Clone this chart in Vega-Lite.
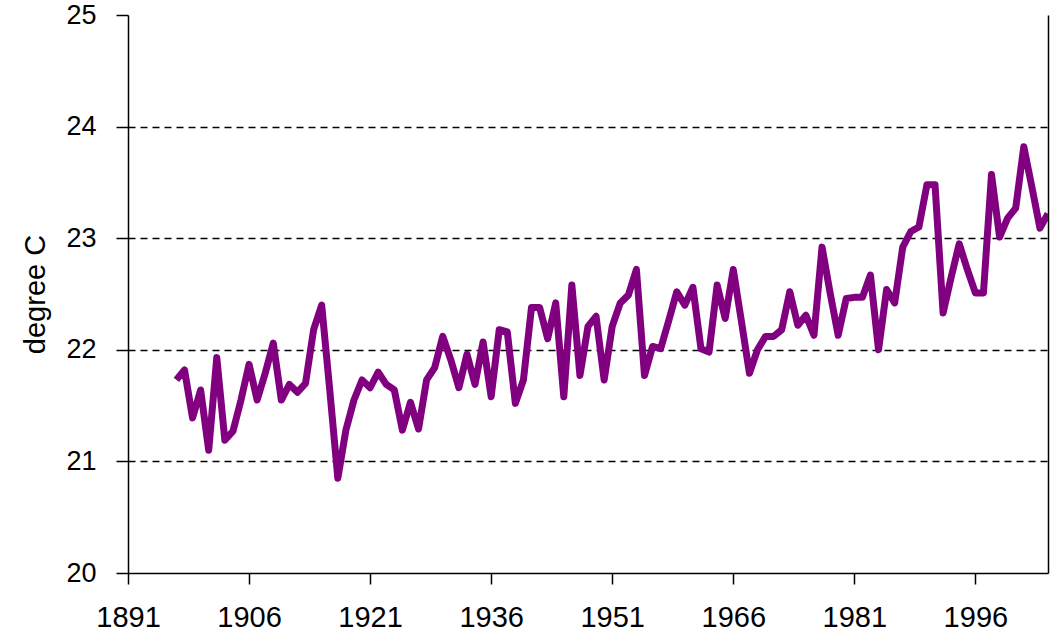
{
  "$schema": "https://vega.github.io/schema/vega-lite/v6.json",
  "width": 920,
  "height": 558,
  "autosize": {"type": "none"},
  "padding": {"left": 128, "top": 15, "right": 8, "bottom": 67},
  "background": "white",
  "config": {
    "view": {"stroke": null},
    "font": "Liberation Sans",
    "axis": {
      "domainColor": "black",
      "domainWidth": 1.5,
      "tickColor": "black",
      "tickWidth": 1.5,
      "labelColor": "black",
      "titleColor": "black",
      "labelFont": "Liberation Sans",
      "titleFont": "Liberation Sans"
    }
  },
  "data": {
    "values": [
      {"year": 1897, "temp": 21.73}, {"year": 1898, "temp": 21.82}, {"year": 1899, "temp": 21.39},
      {"year": 1900, "temp": 21.64}, {"year": 1901, "temp": 21.10}, {"year": 1902, "temp": 21.93},
      {"year": 1903, "temp": 21.19}, {"year": 1904, "temp": 21.27}, {"year": 1905, "temp": 21.55},
      {"year": 1906, "temp": 21.87}, {"year": 1907, "temp": 21.55}, {"year": 1908, "temp": 21.79},
      {"year": 1909, "temp": 22.06}, {"year": 1910, "temp": 21.55}, {"year": 1911, "temp": 21.69},
      {"year": 1912, "temp": 21.62}, {"year": 1913, "temp": 21.70}, {"year": 1914, "temp": 22.18},
      {"year": 1915, "temp": 22.40}, {"year": 1916, "temp": 21.64}, {"year": 1917, "temp": 20.85},
      {"year": 1918, "temp": 21.28}, {"year": 1919, "temp": 21.55}, {"year": 1920, "temp": 21.73},
      {"year": 1921, "temp": 21.66}, {"year": 1922, "temp": 21.80}, {"year": 1923, "temp": 21.69},
      {"year": 1924, "temp": 21.64}, {"year": 1925, "temp": 21.28}, {"year": 1926, "temp": 21.53},
      {"year": 1927, "temp": 21.29}, {"year": 1928, "temp": 21.73}, {"year": 1929, "temp": 21.84},
      {"year": 1930, "temp": 22.12}, {"year": 1931, "temp": 21.91}, {"year": 1932, "temp": 21.66},
      {"year": 1933, "temp": 21.96}, {"year": 1934, "temp": 21.69}, {"year": 1935, "temp": 22.07},
      {"year": 1936, "temp": 21.58}, {"year": 1937, "temp": 22.18}, {"year": 1938, "temp": 22.16},
      {"year": 1939, "temp": 21.52}, {"year": 1940, "temp": 21.73}, {"year": 1941, "temp": 22.38},
      {"year": 1942, "temp": 22.38}, {"year": 1943, "temp": 22.10}, {"year": 1944, "temp": 22.42},
      {"year": 1945, "temp": 21.58}, {"year": 1946, "temp": 22.58}, {"year": 1947, "temp": 21.77},
      {"year": 1948, "temp": 22.21}, {"year": 1949, "temp": 22.30}, {"year": 1950, "temp": 21.73},
      {"year": 1951, "temp": 22.21}, {"year": 1952, "temp": 22.42}, {"year": 1953, "temp": 22.49},
      {"year": 1954, "temp": 22.72}, {"year": 1955, "temp": 21.77}, {"year": 1956, "temp": 22.03},
      {"year": 1957, "temp": 22.01}, {"year": 1958, "temp": 22.26}, {"year": 1959, "temp": 22.52},
      {"year": 1960, "temp": 22.40}, {"year": 1961, "temp": 22.56}, {"year": 1962, "temp": 22.01},
      {"year": 1963, "temp": 21.98}, {"year": 1964, "temp": 22.58}, {"year": 1965, "temp": 22.28},
      {"year": 1966, "temp": 22.72}, {"year": 1967, "temp": 22.26}, {"year": 1968, "temp": 21.79},
      {"year": 1969, "temp": 22.00}, {"year": 1970, "temp": 22.12}, {"year": 1971, "temp": 22.12},
      {"year": 1972, "temp": 22.18}, {"year": 1973, "temp": 22.52}, {"year": 1974, "temp": 22.22},
      {"year": 1975, "temp": 22.31}, {"year": 1976, "temp": 22.13}, {"year": 1977, "temp": 22.92},
      {"year": 1978, "temp": 22.51}, {"year": 1979, "temp": 22.13}, {"year": 1980, "temp": 22.46},
      {"year": 1981, "temp": 22.47}, {"year": 1982, "temp": 22.47}, {"year": 1983, "temp": 22.67},
      {"year": 1984, "temp": 22.00}, {"year": 1985, "temp": 22.54}, {"year": 1986, "temp": 22.42},
      {"year": 1987, "temp": 22.92}, {"year": 1988, "temp": 23.06}, {"year": 1989, "temp": 23.10},
      {"year": 1990, "temp": 23.48}, {"year": 1991, "temp": 23.48}, {"year": 1992, "temp": 22.33},
      {"year": 1993, "temp": 22.65}, {"year": 1994, "temp": 22.95}, {"year": 1995, "temp": 22.72},
      {"year": 1996, "temp": 22.51}, {"year": 1997, "temp": 22.51}, {"year": 1998, "temp": 23.57},
      {"year": 1999, "temp": 23.01}, {"year": 2000, "temp": 23.18}, {"year": 2001, "temp": 23.27},
      {"year": 2002, "temp": 23.82}, {"year": 2003, "temp": 23.46}, {"year": 2004, "temp": 23.09},
      {"year": 2005, "temp": 23.22}
    ]
  },
  "layer": [
    {
      "mark": {"type": "line", "color": "#800080", "strokeWidth": 7, "strokeJoin": "round", "clip": true},
      "encoding": {
        "x": {
          "field": "year",
          "type": "quantitative",
          "scale": {"domain": [1891, 2005], "nice": false, "zero": false},
          "axis": {
            "title": null,
            "values": [1891, 1906, 1921, 1936, 1951, 1966, 1981, 1996],
            "format": "d",
            "grid": false,
            "tickSize": 11,
            "labelFontSize": 29,
            "labelPadding": 19,
            "labelFlush": false,
            "labelOverlap": false
          }
        },
        "y": {
          "field": "temp",
          "type": "quantitative",
          "scale": {"domain": [20, 25], "nice": false, "zero": false},
          "axis": {
            "title": "degree C",
            "titleFontSize": 29,
            "titleFontWeight": "normal",
            "titlePadding": 15,
            "values": [20, 21, 22, 23, 24, 25],
            "format": "d",
            "grid": true,
            "gridColor": "black",
            "gridWidth": 1.5,
            "gridDash": [7, 5],
            "gridOpacity": {"condition": {"test": "datum.value == 20 || datum.value == 25", "value": 0}, "value": 1},
            "tickSize": 12,
            "labelFontSize": 27,
            "labelPadding": 20
          }
        }
      }
    },
    {
      "mark": {"type": "line", "opacity": 0},
      "encoding": {
        "x": {"field": "year", "type": "quantitative"},
        "y": {
          "field": "temp",
          "type": "quantitative",
          "axis": {"orient": "right", "title": null, "labels": false, "ticks": false, "grid": false}
        }
      }
    }
  ],
  "resolve": {"axis": {"y": "independent"}}
}
